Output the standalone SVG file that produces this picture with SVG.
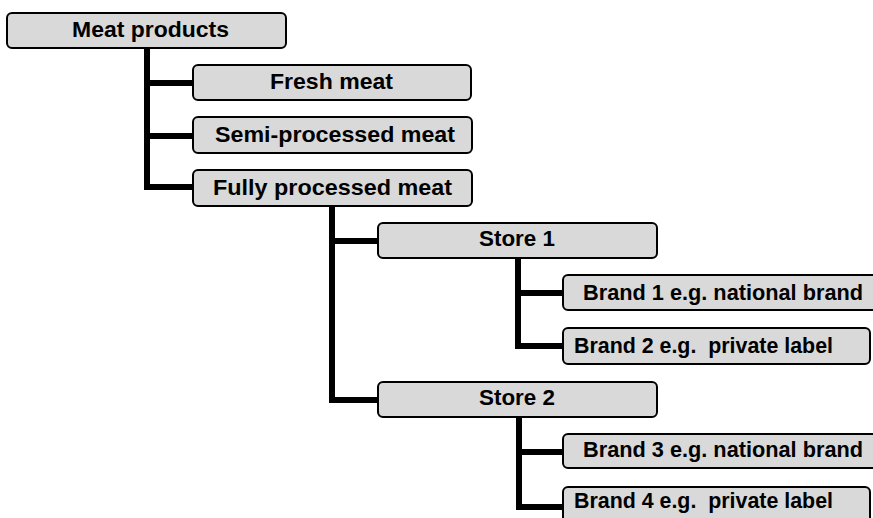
<svg xmlns="http://www.w3.org/2000/svg" width="873" height="518" viewBox="0 0 873 518">
<style>
.box{fill:#d9d9d9;stroke:#000;stroke-width:2}
.lbl{font-family:"Liberation Sans",Arial,sans-serif;font-weight:bold;font-size:22px;fill:#000;text-anchor:middle}
.con{fill:none;stroke:#000;stroke-width:6;stroke-linejoin:miter}
</style>
<rect width="873" height="518" fill="#fff"/>
<g id="connectors">
<path class="con" d="M147 48 V187 H193 M147 83 H193 M147 136 H193"/>
<path class="con" d="M332 206 V400 H378 M332 241 H378"/>
<path class="con" d="M518 258 V346 H563 M518 293 H563"/>
<path class="con" d="M519 417 V507 H563 M519 452 H563"/>
</g>
<g id="meat-products"><rect class="box" x="7" y="13" width="279" height="35" rx="5"/><text class="lbl" x="150.5" y="37" textLength="157" lengthAdjust="spacingAndGlyphs">Meat products</text></g>
<g id="fresh-meat"><rect class="box" x="193" y="65" width="278" height="35" rx="5"/><text class="lbl" x="331.5" y="89" textLength="123" lengthAdjust="spacingAndGlyphs">Fresh meat</text></g>
<g id="semi-processed"><rect class="box" x="193" y="117" width="279" height="36" rx="5"/><text class="lbl" x="335" y="142" textLength="240" lengthAdjust="spacingAndGlyphs">Semi-processed meat</text></g>
<g id="fully-processed"><rect class="box" x="193" y="170" width="279" height="36" rx="5"/><text class="lbl" x="332.5" y="195" textLength="239" lengthAdjust="spacingAndGlyphs">Fully processed meat</text></g>
<g id="store-1"><rect class="box" x="378" y="223" width="279" height="35" rx="5"/><text class="lbl" x="517" y="246" textLength="76" lengthAdjust="spacingAndGlyphs">Store 1</text></g>
<g id="store-2"><rect class="box" x="378" y="382" width="279" height="35" rx="5"/><text class="lbl" x="517" y="405" textLength="76" lengthAdjust="spacingAndGlyphs">Store 2</text></g>
<g id="brand-1"><rect class="box" x="563" y="275" width="320" height="35" rx="5"/><text class="lbl" x="723" y="300" textLength="280" lengthAdjust="spacingAndGlyphs">Brand 1 e.g. national brand</text></g>
<g id="brand-2"><rect class="box" x="563" y="328" width="307" height="36" rx="5"/><text class="lbl" x="703.5" y="353" textLength="259" lengthAdjust="spacingAndGlyphs">Brand 2 e.g. &#160;private label</text></g>
<g id="brand-3"><rect class="box" x="563" y="434" width="320" height="34" rx="5"/><text class="lbl" x="723" y="457" textLength="280" lengthAdjust="spacingAndGlyphs">Brand 3 e.g. national brand</text></g>
<g id="brand-4"><rect class="box" x="563" y="487" width="307" height="40" rx="5"/><text class="lbl" x="703.5" y="508" textLength="259" lengthAdjust="spacingAndGlyphs">Brand 4 e.g. &#160;private label</text></g>
</svg>
